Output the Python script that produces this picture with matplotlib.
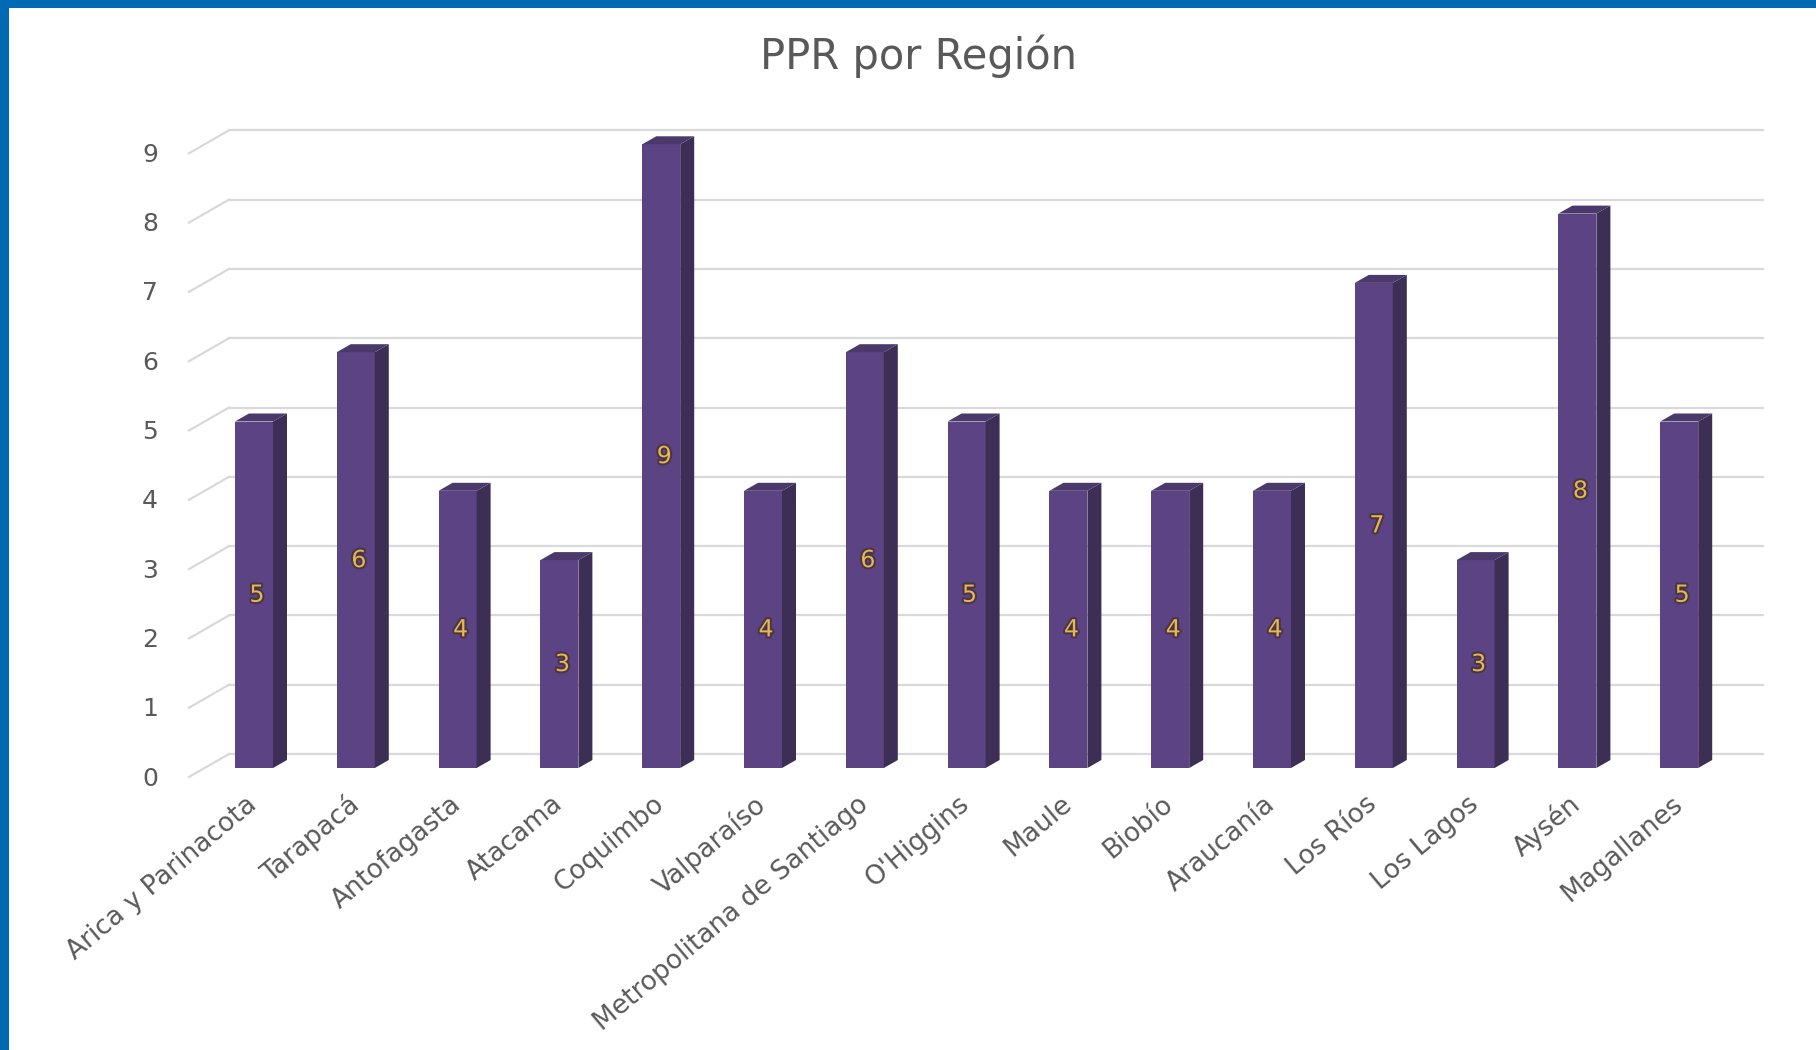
import matplotlib
matplotlib.use("Agg")
import matplotlib.pyplot as plt
import matplotlib.transforms as mtransforms
import matplotlib.patheffects as pe
from matplotlib.patches import Polygon, Rectangle

regiones = ["Arica y Parinacota", "Tarapacá", "Antofagasta", "Atacama", "Coquimbo",
            "Valparaíso", "Metropolitana de Santiago", "O'Higgins", "Maule", "Biobío",
            "Araucanía", "Los Ríos", "Los Lagos", "Aysén", "Magallanes"]
ppr = [5, 6, 4, 3, 9, 4, 6, 5, 4, 4, 4, 7, 3, 8, 5]
yticks = list(range(10))

plt.rcParams['font.family'] = ['DejaVu Sans']

W, H = 1816, 1050
fig = plt.figure(figsize=(W / 100, H / 100), dpi=100)

# layout in pixels: bar i front centre at x0 + step*i, value v at y0 - unit*v (from top)
x0, step = 254, 101.8
y0, unit = 768, 69.3
left_px, right_px, top_px, bot_px = 190, 1790, 100, 790

ax = fig.add_axes([left_px / W, 1 - bot_px / H, (right_px - left_px) / W, (bot_px - top_px) / H])
ax.set_xlim((left_px - x0) / step, (right_px - x0) / step)
ax.set_ylim((y0 - bot_px) / unit, (y0 - top_px) / unit)
for s in ax.spines.values():
    s.set_visible(False)

# back wall gridlines plus the short floor diagonals
grid_dy = 14 / unit
floor_dy = -9 / unit
gx0 = (229 - x0) / step
gx1 = (1763 - x0) / step
dx0 = (189 - x0) / step
for t in yticks:
    ax.plot([gx0, gx1], [t + grid_dy, t + grid_dy], color="#d9d9d9", lw=1.6, zorder=0)
    ax.plot([dx0, gx0], [t + floor_dy, t + grid_dy], color="#d9d9d9", lw=1.6, zorder=0,
            clip_on=False)

bw = 38 / step
side_dx = 14 / step
top_dy = 8 / unit
front_c, side_c, top_c = "#5c4383", "#3c2e55", "#4b396c"
xs = list(range(len(regiones)))
ax.bar(xs, ppr, width=bw, color=front_c, zorder=2)
for i, v in zip(xs, ppr):
    xr = i + bw / 2
    xl = i - bw / 2
    ax.add_patch(Polygon([(xr, 0), (xr, v), (xr + side_dx, v + top_dy), (xr + side_dx, top_dy)],
                         closed=True, facecolor=side_c, edgecolor="none", zorder=2))
    ax.add_patch(Polygon([(xl, v), (xr, v), (xr + side_dx, v + top_dy), (xl + side_dx, v + top_dy)],
                         closed=True, facecolor=top_c, edgecolor="none", zorder=2))
    ax.text(i + 0.03, v / 2, str(v), ha="center", va="center", fontsize=17, color="#e8b84e",
            zorder=3, path_effects=[pe.withStroke(linewidth=3, foreground="#4a3548")])

ax.set_yticks(yticks)
ax.set_yticklabels([str(t) for t in yticks], fontsize=18, color="#595959")
ax.set_xticks(xs)
ax.set_xticklabels(regiones, fontsize=19, color="#595959", rotation=40,
                   ha="right", va="center", rotation_mode="anchor")
ax.tick_params(axis="both", length=0)
ax.tick_params(axis="y", pad=23)
ax.tick_params(axis="x", pad=8)

# y labels sit on the front floor edge, a little lower than the bar fronts
off = mtransforms.ScaledTranslation(0, -8 / 100, fig.dpi_scale_trans)
for lab in ax.get_yticklabels():
    lab.set_transform(lab.get_transform() + off)

fig.text(918 / W, 1 - 56 / H, "PPR por Región", ha="center", va="center",
         fontsize=30, color="#595959")

# blue frame
fig.add_artist(Rectangle((0, 1 - 8 / H), 1, 8 / H, transform=fig.transFigure,
                         facecolor="#0069b4", edgecolor="none"))
fig.add_artist(Rectangle((0, 0), 9 / W, 1, transform=fig.transFigure,
                         facecolor="#0069b4", edgecolor="none"))

fig.savefig("out.png", dpi=100)
